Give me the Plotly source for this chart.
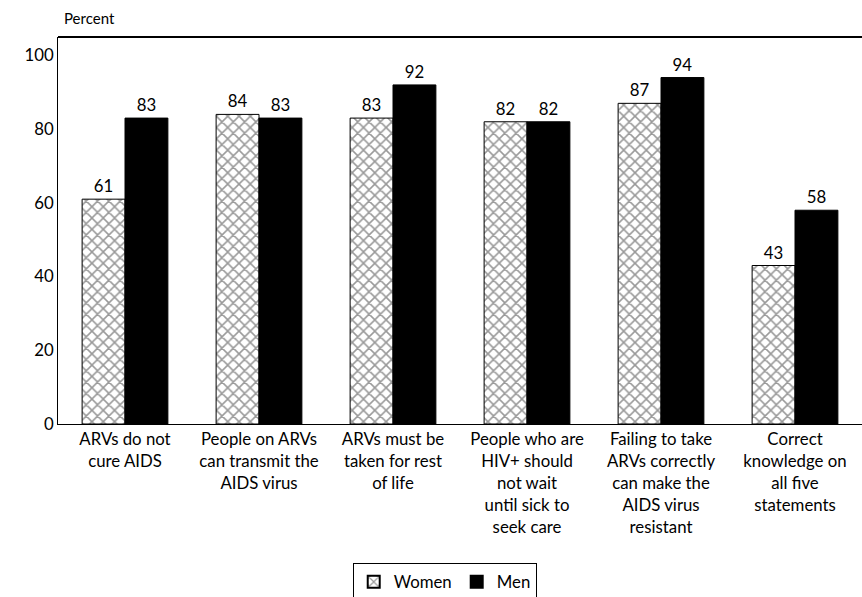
import plotly.graph_objects as go

categories = [
    "ARVs do not<br>cure AIDS",
    "People on ARVs<br>can transmit the<br>AIDS virus",
    "ARVs must be<br>taken for rest<br>of life",
    "People who are<br>HIV+ should<br>not wait<br>until sick to<br>seek care",
    "Failing to take<br>ARVs correctly<br>can make the<br>AIDS virus<br>resistant",
    "Correct<br>knowledge on<br>all five<br>statements",
]
women = [61, 84, 83, 82, 87, 43]
men = [83, 83, 92, 82, 94, 58]
yticks = [0, 20, 40, 60, 80, 100]

FONT = "Lato, Noto Sans, sans-serif"
FS = 16.8

fig = go.Figure()
fig.add_trace(go.Bar(
    name="Women", x=categories, y=women,
    marker=dict(color="white", line=dict(color="black", width=1),
                pattern=dict(shape="x", fgcolor="#333333", bgcolor="white", size=8, solidity=0.35)),
    text=women, textposition="outside", cliponaxis=False,
    textfont=dict(size=FS, color="black", family=FONT),
))
fig.add_trace(go.Bar(
    name="Men", x=categories, y=men,
    marker=dict(color="black", line=dict(color="black", width=1)),
    text=men, textposition="outside", cliponaxis=False,
    textfont=dict(size=FS, color="black", family=FONT),
))

fig.update_layout(
    width=862, height=597,
    margin=dict(l=58, r=0, t=37, b=173, autoexpand=False),
    paper_bgcolor="white", plot_bgcolor="white",
    barmode="group", bargap=0.36, bargroupgap=0,
    font=dict(family=FONT, size=FS, color="black"),
    showlegend=True,
    legend=dict(orientation="h", x=0.481, xanchor="center", y=-0.408, yanchor="middle",
                bordercolor="black", borderwidth=1, font=dict(size=FS),
                itemwidth=30, tracegroupgap=0, itemsizing="constant"),
    xaxis=dict(showline=True, linecolor="black", linewidth=1, ticks="", showgrid=False,
               tickfont=dict(size=FS), automargin=False),
    yaxis=dict(range=[0, 105], tickvals=yticks, showline=True, linecolor="black", linewidth=1,
               ticks="", showgrid=False, zeroline=False, tickfont=dict(size=FS), automargin=False),
    annotations=[dict(text="Percent", xref="paper", yref="paper", x=0.005, y=1.0, yshift=19,
                      xanchor="left", yanchor="middle", showarrow=False, font=dict(size=15))],
    shapes=[dict(type="line", xref="paper", yref="paper", x0=0, x1=1, y0=1, y1=1,
                 line=dict(color="black", width=2))],
)

fig.write_html("out.html", config={"displayModeBar": False},
               post_script="document.body.style.margin='0';")
